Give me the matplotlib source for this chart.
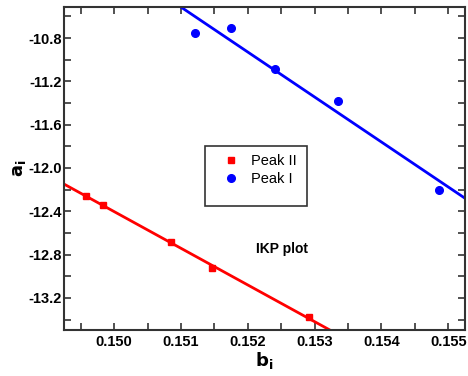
import numpy as np
import matplotlib.pyplot as plt
from matplotlib.ticker import MultipleLocator
from matplotlib.patches import Rectangle

plt.rcParams['font.family'] = ['Liberation Sans', 'DejaVu Sans']

# Peak II (red squares)
b_peak2 = [0.149582, 0.149836, 0.150851, 0.151463, 0.152910]
a_peak2 = [-12.259, -12.342, -12.684, -12.924, -13.377]

# Peak I (blue circles)
b_peak1 = [0.151209, 0.151746, 0.152403, 0.153343, 0.154866]
a_peak1 = [-10.753, -10.707, -11.086, -11.381, -12.203]

x_ticks = [0.150, 0.151, 0.152, 0.153, 0.154, 0.155]
y_ticks = [-10.8, -11.2, -11.6, -12.0, -12.4, -12.8, -13.2]

fig = plt.figure(figsize=(4.68, 3.76), dpi=100)
ax = fig.add_axes([0.1368, 0.1223, 0.8568, 0.859])

xlim = (0.14925, 0.15525)
ylim = (-13.496, -10.514)

# linear fits over the whole x range
xx = np.array(xlim)
p2 = np.polyfit(b_peak2, a_peak2, 1)
p1 = np.polyfit(b_peak1, a_peak1, 1)
ax.plot(xx, np.polyval(p2, xx), color='#ff0000', lw=2)
ax.plot(xx, np.polyval(p1, xx), color='#0000ff', lw=2)

ax.plot(b_peak2, a_peak2, 's', color='#ff0000', ms=5, label='Peak II')
ax.plot(b_peak1, a_peak1, 'o', color='#0000ff', ms=5.5, label='Peak I')

ax.set_xlim(xlim)
ax.set_ylim(ylim)
ax.set_xticks(x_ticks)
ax.set_yticks(y_ticks)
ax.xaxis.set_minor_locator(MultipleLocator(0.0005))
ax.yaxis.set_minor_locator(MultipleLocator(0.2))
ax.set_xticklabels(['%.3f' % v for v in x_ticks])
ax.set_yticklabels(['%.1f' % v for v in y_ticks])
ax.tick_params(which='both', direction='in', top=True, right=True,
               length=5, width=1.2, color='#333333')
ax.tick_params(labelsize=10.5)
ax.tick_params(axis='y', pad=1.5)
for lab in ax.get_xticklabels() + ax.get_yticklabels():
    lab.set_fontweight('bold')
for sp in ax.spines.values():
    sp.set_linewidth(1.5)
    sp.set_color('#333333')

ax.set_xlabel(r'$\mathbf{b_i}$', fontsize=13, labelpad=1)
ax.set_ylabel(r'$\mathbf{a_i}$', fontsize=13, labelpad=0.5)

# legend box (taller at the bottom, as in the original)
ax.add_patch(Rectangle((0.3516, 0.3839), 0.2544, 0.1858, transform=ax.transAxes,
                       fill=False, edgecolor='#333333', lw=1.2, zorder=4))
ax.legend(loc='upper left', bbox_to_anchor=(0.3716, 0.5728), borderaxespad=0,
          fontsize=10.5, frameon=False, handlelength=1.2, handletextpad=0.8,
          borderpad=0.6, labelspacing=0.3, markerscale=1.0)

ax.text(0.478, 0.238, 'IKP plot', transform=ax.transAxes, fontsize=10,
        fontweight='bold')

fig.savefig('out.png', dpi=100)
